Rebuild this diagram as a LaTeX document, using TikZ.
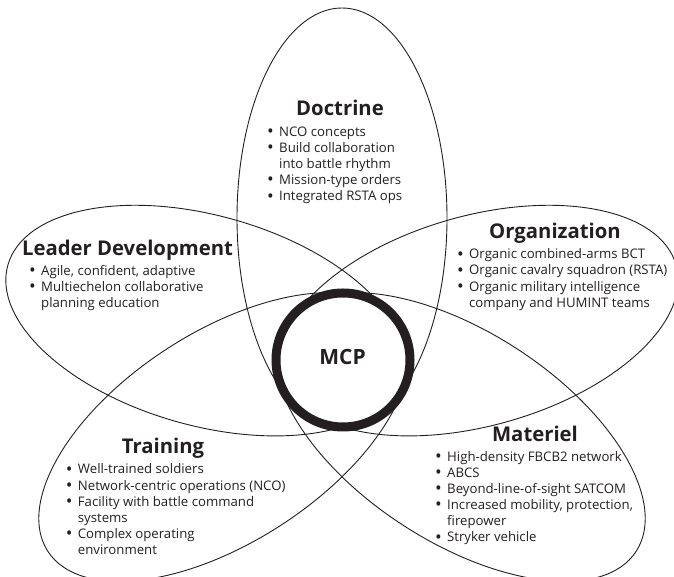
\documentclass[tikz,border=0pt]{standalone}
\usepackage{fontspec}
\setmainfont{Open Sans}
\usepackage{tikz}
\usetikzlibrary{positioning}
\definecolor{mcpink}{HTML}{231F20}
\newcommand{\pbul}{\makebox[12pt][l]{\raisebox{-1.2pt}{\scalebox{1.35}{\textbullet}}}}
\newcommand{\pind}{\hspace*{12pt}}

\begin{document}
\begin{tikzpicture}[x=1pt,y=1pt,color=mcpink,
		petal/.style={draw=mcpink,line width=0.9pt},
		ring/.style={circle,draw=mcpink,line width=9pt,fill=white,minimum size=134pt,inner sep=0pt},
		petaltitle/.style={font=\bfseries\fontsize{20.3}{22}\selectfont,text=mcpink,inner sep=0pt,anchor=base},
		petallist/.style={font=\fontsize{13.2}{16.1}\selectfont,text=mcpink,inner sep=0pt,anchor=base west},
		mcplabel/.style={font=\bfseries\fontsize{21}{24}\selectfont,text=mcpink,inner sep=0pt,anchor=base}]
			\useasboundingbox (0,0) rectangle (674,577);
			\draw[petal] (342,359) ellipse (105 and 210);
			\draw[petal,rotate around={-15.7:(205.2,256.4)}] (205.2,256.4) ellipse (205 and 105);
			\draw[petal,rotate around={15.7:(478.8,256.4)}] (478.8,256.4) ellipse (205 and 105);
			\draw[petal,rotate around={33:(224,140)}] (224,140) ellipse (210 and 105);
			\draw[petal,rotate around={-33:(460,140)}] (460,140) ellipse (210 and 105);
			
			\node[ring] (mcp) at (343,217) {};
			\node[mcplabel] (mcptext) at (342.5,212) {MCP};
			
			\node[petaltitle] (doctrine) at (340,461) {Doctrine};
			\node[petallist] (doctrinelist) at (267,440.5) {\begin{tabular}[t]{@{}l@{}}
					\pbul NCO concepts\\
					\pbul Build collaboration\\
					\pind into battle rhythm\\
					\pbul Mission-type orders\\
					\pbul Integrated RSTA ops
				\end{tabular}};
			\node[petaltitle] (organization) at (555,338.7) {Organization};
			\node[petallist] (organizationlist) at (457,318.1) {\begin{tabular}[t]{@{}l@{}}
					\pbul Organic combined-arms BCT\\
					\pbul Organic cavalry squadron (RSTA)\\
					\pbul Organic military intelligence\\
					\pind company and HUMINT teams
				\end{tabular}};
			\node[petaltitle] (leader) at (127.5,321.5) {Leader Development};
			\node[petallist] (leaderlist) at (29,301.4) {\begin{tabular}[t]{@{}l@{}}
					\pbul Agile, confident, adaptive\\
					\pbul Multiechelon collaborative\\
					\pind planning education
				\end{tabular}};
			\node[petaltitle] (training) at (163,123) {Training};
			\node[petallist] (traininglist) at (65.7,103) {\begin{tabular}[t]{@{}l@{}}
					\pbul Well-trained soldiers\\
					\pbul Network-centric operations (NCO)\\
					\pbul Facility with battle command\\
					\pind systems\\
					\pbul Complex operating\\
					\pind environment
				\end{tabular}};
			\node[petaltitle] (materiel) at (535,135.3) {Materiel};
			\node[petallist] (materiellist) at (435,115.5) {\begin{tabular}[t]{@{}l@{}}
					\pbul High-density FBCB2 network\\
					\pbul ABCS\\
					\pbul Beyond-line-of-sight SATCOM\\
					\pbul Increased mobility, protection,\\
					\pind firepower\\
					\pbul Stryker vehicle
				\end{tabular}};
		\end{tikzpicture}
\end{document}
